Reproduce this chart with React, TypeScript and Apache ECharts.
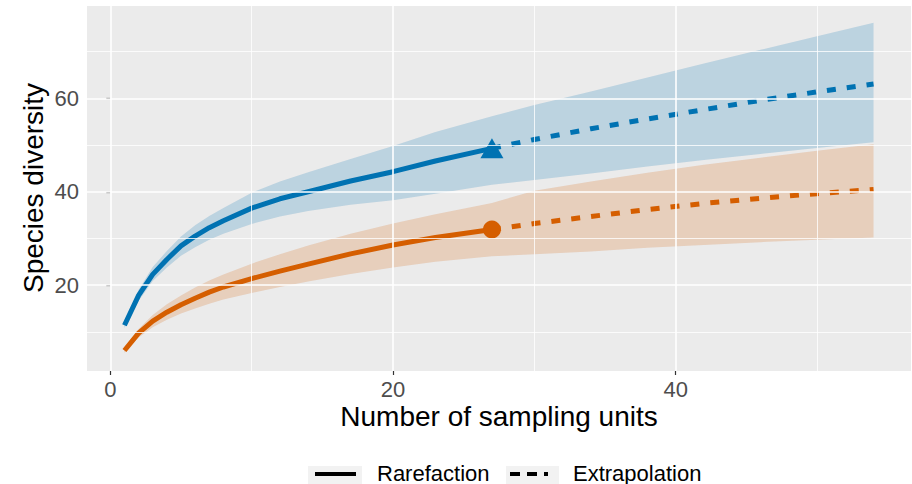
import React, { useEffect, useRef } from "react";
import * as echarts from "echarts";

// ---- data ----
const rareX = [1, 2, 3, 4, 5, 6, 7, 8, 10, 12, 14, 17, 20, 23, 27];
const extX = [27, 30, 34, 38, 42, 46, 50, 54];
const bandX = [1, 2, 3, 4, 5, 6, 7, 8, 10, 12, 14, 17, 20, 23, 27, 30, 34, 38, 42, 46, 50, 54];

const blueRare = [11.4, 17.8, 22.3, 25.5, 28.4, 30.5, 32.3, 33.8, 36.5, 38.5, 40.0, 42.3, 44.3, 46.6, 49.3];
const blueExt = [49.3, 51.2, 53.5, 55.6, 57.6, 59.6, 61.4, 63.1];
const blueLower = [10.8, 16.6, 20.9, 23.8, 26.3, 28.1, 29.7, 31.0, 33.1, 34.7, 35.9, 37.2, 38.2, 39.6, 41.5, 42.5, 43.9, 45.4, 46.8, 48.1, 49.4, 50.6];
const blueUpper = [12.0, 19.0, 23.9, 27.3, 30.4, 32.8, 34.8, 36.5, 39.8, 42.2, 44.2, 47.0, 49.8, 52.8, 56.2, 58.6, 61.5, 64.5, 67.5, 70.4, 73.3, 76.2];

const orangeRare = [6.0, 9.7, 12.3, 14.2, 15.8, 17.2, 18.5, 19.6, 21.4, 23.0, 24.5, 26.7, 28.6, 30.2, 31.9];
const orangeExt = [31.9, 33.2, 34.7, 36.2, 37.5, 38.6, 39.6, 40.5];
const orangeLower = [5.5, 8.8, 11.0, 12.6, 13.9, 15.0, 16.0, 16.9, 18.3, 19.6, 20.8, 22.4, 23.8, 25.0, 26.2, 26.6, 27.2, 28.0, 28.6, 29.2, 29.7, 30.2];
const orangeUpper = [6.5, 10.6, 13.6, 15.9, 17.8, 19.5, 21.0, 22.3, 24.6, 26.6, 28.5, 31.0, 33.2, 35.2, 37.6, 40.2, 42.2, 44.1, 45.8, 47.3, 48.8, 50.2];

const xTicks = [0, 20, 40];
const xMinor = [10, 30, 50];
const yTicks = [20, 40, 60];
const yMinor = [10, 30, 50, 70];

const xTitle = "Number of sampling units";
const yTitle = "Species diversity";
const legendNames = ["Rarefaction", "Extrapolation"];

const BLUE = "#0072B2";
const ORANGE = "#D55E00";
const FONT = "'Liberation Sans', Arial, Helvetica, sans-serif";

const pair = (xs: number[], ys: number[]) => xs.map((x, i) => [x, ys[i]]);

export default function App() {
  const ref = useRef<HTMLDivElement>(null);

  useEffect(() => {
    if (!ref.current) return;
    const chart = echarts.init(ref.current, undefined, { renderer: "svg" });

    const gridLines = [
      ...xTicks.map((v) => ({ xAxis: v, lineStyle: { width: 1.6 } })),
      ...xMinor.map((v) => ({ xAxis: v, lineStyle: { width: 0.8 } })),
      ...yTicks.map((v) => ({ yAxis: v, lineStyle: { width: 1.6 } })),
      ...yMinor.map((v) => ({ yAxis: v, lineStyle: { width: 0.8 } })),
    ];

    // confidence band: one polygon through the lower edge then back along the upper edge
    const bandSeries = (lower: number[], upper: number[], fill: string) => ({
      type: "custom",
      silent: true,
      z: 2,
      data: bandX.map((x, i) => [x, lower[i], upper[i]]),
      encode: { x: 0, y: [1, 2] },
      renderItem: (params: any, api: any) => {
        if (params.dataIndex !== 0) return null;
        const lowPts = bandX.map((x, i) => api.coord([x, lower[i]]));
        const upPts = bandX.map((x, i) => api.coord([x, upper[i]])).reverse();
        return {
          type: "polygon",
          shape: { points: [...lowPts, ...upPts] },
          style: { fill, stroke: "none" },
        };
      },
    });

    const lineSeries = (data: number[][], color: string, dashed: boolean) => ({
      type: "line",
      data,
      symbol: "none",
      silent: true,
      lineStyle: {
        color,
        width: 5,
        type: dashed ? [9, 11] : "solid",
        cap: "butt",
        join: "round",
      },
      z: 3,
    });

    const option: any = {
      animation: false,
      backgroundColor: "#FFFFFF",
      textStyle: { fontFamily: FONT },
      grid: {
        left: 87,
        right: 1,
        top: 6,
        bottom: 113,
        containLabel: false,
        outerBoundsMode: "none",
        show: true,
        backgroundColor: "#EBEBEB",
        borderWidth: 0,
      },
      xAxis: {
        type: "value",
        min: -1.65,
        max: 56.65,
        axisLine: { show: false },
        splitLine: { show: false },
        axisTick: { show: true, customValues: xTicks, length: 4, lineStyle: { color: "#333333", width: 1.2 } },
        axisLabel: { customValues: xTicks, margin: 7, color: "#4D4D4D", fontSize: 22, fontFamily: FONT },
      },
      yAxis: {
        type: "value",
        min: 1.6,
        max: 79.8,
        axisLine: { show: false },
        splitLine: { show: false },
        axisTick: { show: true, customValues: yTicks, length: 4, lineStyle: { color: "#333333", width: 1.2 } },
        axisLabel: { customValues: yTicks, margin: 8, color: "#4D4D4D", fontSize: 22, fontFamily: FONT },
      },
      series: [
        {
          type: "line",
          name: "grid",
          data: [],
          silent: true,
          z: 1,
          markLine: {
            silent: true,
            symbol: ["none", "none"],
            label: { show: false },
            lineStyle: { color: "#FFFFFF", type: "solid" },
            data: gridLines,
          },
        },
        bandSeries(blueLower, blueUpper, "rgba(0,114,178,0.2)"),
        bandSeries(orangeLower, orangeUpper, "rgba(213,94,0,0.2)"),
        lineSeries(pair(rareX, blueRare), BLUE, false),
        lineSeries(pair(extX, blueExt), BLUE, true),
        lineSeries(pair(rareX, orangeRare), ORANGE, false),
        lineSeries(pair(extX, orangeExt), ORANGE, true),
        {
          type: "scatter",
          data: [[rareX[rareX.length - 1], blueRare[blueRare.length - 1]]],
          symbol: "triangle",
          symbolSize: [23, 20],
          itemStyle: { color: BLUE, opacity: 1 },
          silent: true,
          z: 4,
        },
        {
          type: "scatter",
          data: [[rareX[rareX.length - 1], orangeRare[orangeRare.length - 1]]],
          symbol: "circle",
          symbolSize: 18,
          itemStyle: { color: ORANGE, opacity: 1 },
          silent: true,
          z: 4,
        },
      ],
      graphic: [
        {
          type: "text",
          x: 499,
          y: 416,
          style: { text: xTitle, font: `28px ${FONT}`, fill: "#000000", align: "center", verticalAlign: "middle" },
        },
        {
          type: "text",
          x: 33,
          y: 188,
          rotation: Math.PI / 2,
          style: { text: yTitle, font: `28px ${FONT}`, fill: "#000000", align: "center", verticalAlign: "middle" },
        },
        { type: "rect", shape: { x: 308, y: 466, width: 54, height: 20 }, style: { fill: "#F2F2F2" } },
        { type: "line", shape: { x1: 315, y1: 474, x2: 356, y2: 474 }, style: { stroke: "#000000", lineWidth: 4.2 } },
        {
          type: "text",
          x: 377,
          y: 473,
          style: { text: legendNames[0], font: `22px ${FONT}`, fill: "#000000", align: "left", verticalAlign: "middle" },
        },
        { type: "rect", shape: { x: 506, y: 466, width: 53, height: 20 }, style: { fill: "#F2F2F2" } },
        {
          type: "line",
          shape: { x1: 510, y1: 474, x2: 548, y2: 474 },
          style: { stroke: "#000000", lineWidth: 4.2, lineDash: [10, 7] },
        },
        {
          type: "text",
          x: 573,
          y: 473,
          style: { text: legendNames[1], font: `22px ${FONT}`, fill: "#000000", align: "left", verticalAlign: "middle" },
        },
      ],
    };

    chart.setOption(option);
    return () => chart.dispose();
  }, []);

  return (
    <div
      ref={ref}
      style={{ position: "absolute", left: 0, top: 0, width: 912, height: 484 }}
    />
  );
}
